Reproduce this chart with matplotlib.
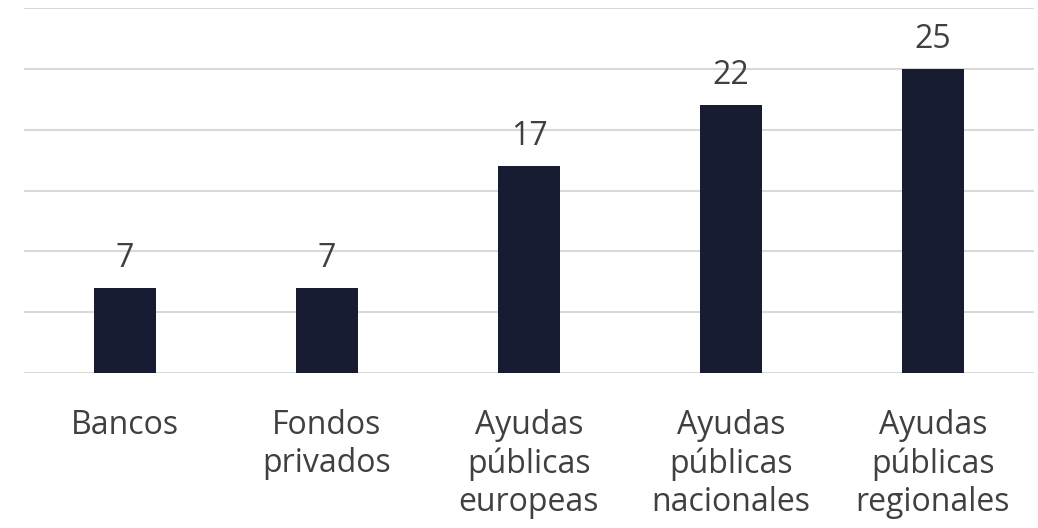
import matplotlib
matplotlib.use("Agg")
import matplotlib.pyplot as plt

categories = ["Bancos", "Fondos\nprivados", "Ayudas\npúblicas\neuropeas",
              "Ayudas\npúblicas\nnacionales", "Ayudas\npúblicas\nregionales"]
values = [7, 7, 17, 22, 25]

plt.rcParams['font.family'] = ['Open Sans', 'DejaVu Sans']
text_color = '#404040'

fig = plt.figure(figsize=(10.38, 5.28), dpi=100)
ax = fig.add_axes([24 / 1038, 1 - 373 / 528, 1010 / 1038, 365 / 528])

x = range(len(categories))
bars = ax.bar(x, values, width=0.31, color='#171c33', zorder=3)

ax.set_ylim(0, 30)
ax.set_xlim(-0.5, len(categories) - 0.5)
ax.set_yticks(range(0, 31, 5))
ax.yaxis.grid(True, color='#d9d9d9', linewidth=1.5, zorder=0)
ax.tick_params(axis='y', left=False, labelleft=False)
ax.tick_params(axis='x', length=0, pad=26, labelsize=23, labelcolor=text_color)
ax.set_xticks(list(x))
ax.set_xticklabels(categories, linespacing=1.2, va='top')
for s in ax.spines.values():
    s.set_visible(False)

for b, v in zip(bars, values):
    ax.annotate(str(v), (b.get_x() + b.get_width() / 2, v), xytext=(0, 9.5),
                textcoords='offset points', ha='center', va='bottom',
                fontsize=23, color=text_color)

fig.savefig("out.png", dpi=100)
